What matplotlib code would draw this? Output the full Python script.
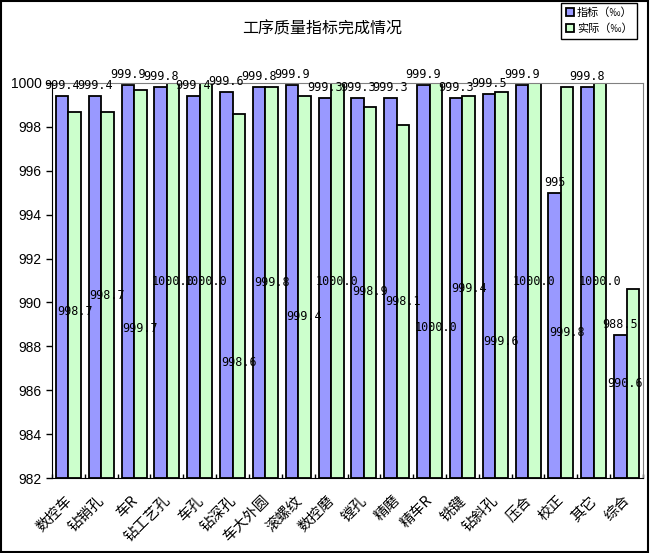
import matplotlib
matplotlib.use("Agg")
import matplotlib.pyplot as plt
import numpy as np
from matplotlib.patches import Rectangle

plt.rcParams["font.family"] = ["Noto Sans CJK SC", "DejaVu Sans"]

# 数据
categories = ["数控车", "钻销孔", "车R", "钻工艺孔", "车孔", "钻深孔", "车大外圆", "滚螺纹", "数控磨",
              "镗孔", "精磨", "精车R", "铣键", "钻斜孔", "压合", "校正", "其它", "综合"]
target = [999.4, 999.4, 999.9, 999.8, 999.4, 999.6, 999.8, 999.9, 999.3,
          999.3, 999.3, 999.9, 999.3, 999.5, 999.9, 995.0, 999.8, 988.5]
actual = [998.7, 998.7, 999.7, 1000.0, 1000.0, 998.6, 999.8, 999.4, 1000.0,
          998.9, 998.1, 1000.0, 999.4, 999.6, 1000.0, 999.8, 1000.0, 990.6]
target_text = ["999.4", "999.4", "999.9", "999.8", "999.4", "999.6", "999.8", "999.9", "999.3",
               "999.3", "999.3", "999.9", "999.3", "999.5", "999.9", "995", "999.8", "988.5"]
# 原图中"实际"数据标签的位置(错位)
actual_label_y = [989.6, 990.3, 988.8, 990.95, 990.95, 987.25, 990.9, 989.35, 990.95,
                  990.5, 990.05, 988.85, 990.65, 988.2, 990.95, 988.65, 990.95, 986.3]
yticks = np.arange(982, 1001, 2)

fig = plt.figure(figsize=(6.5, 5.53), dpi=100)
ax = fig.add_axes([52 / 650, 75 / 553, 591 / 650, 395 / 553])

x = np.arange(len(categories))
w = 0.38
bars1 = ax.bar(x - w / 2, np.array(target) - 982, w, bottom=982, color="#9999FF",
               edgecolor="black", linewidth=1.3, label="指标（‰）")
bars2 = ax.bar(x + w / 2, np.array(actual) - 982, w, bottom=982, color="#CCFFCC",
               edgecolor="black", linewidth=1.3, label="实际（‰）")

ax.set_xlim(-0.5, len(categories) - 0.5)
ax.set_ylim(982, 1000)
ax.set_yticks(yticks)
ax.set_yticklabels([str(v) for v in yticks], fontsize=10, family="Liberation Sans")
ax.tick_params(axis="y", direction="out", length=4, width=1)

# 分类刻度 (边界处, 向内)
ax.set_xticks(np.arange(len(categories) + 1) - 0.5)
ax.set_xticklabels([])
ax.tick_params(axis="x", direction="in", length=3, width=1)
for i, c in enumerate(categories):
    ax.annotate(c, xy=(i - 0.12, 982), xycoords="data", xytext=(0, -11), textcoords="offset points",
                rotation=45, ha="right", va="top", fontsize=10.5, rotation_mode="anchor")

for s in ["top", "right"]:
    ax.spines[s].set_color("#808080")
for s in ["left", "bottom"]:
    ax.spines[s].set_color("black")

# 数据标签
for i, (t, txt) in enumerate(zip(target, target_text)):
    ax.annotate(txt, xy=(i - w / 2, t), xytext=(0, 3), textcoords="offset points",
                ha="center", va="bottom", fontsize=8.5, family="DejaVu Sans Mono")
n = len(categories)
for i, (a, ly) in enumerate(zip(actual, actual_label_y)):
    if i == n - 1:
        # 靠右边界的标签收在绘图区内
        ax.text(n - 0.5, ly, f"{a:.1f}", ha="right", va="center", fontsize=8.5,
                family="DejaVu Sans Mono")
    else:
        ax.text(i + w / 2, ly, f"{a:.1f}", ha="center", va="center", fontsize=8.5,
                family="DejaVu Sans Mono")

fig.text(322 / 650, 1 - 29 / 553, "工序质量指标完成情况", ha="center", va="center", fontsize=11.5)

leg = fig.legend(handles=[bars1, bars2], loc="upper right", bbox_to_anchor=(637 / 650, 1 - 3 / 553),
                 fontsize=8, frameon=True, fancybox=False, edgecolor="black", framealpha=1,
                 handlelength=0.7, handleheight=0.7, handletextpad=0.3, borderpad=0.4,
                 labelspacing=0.5, borderaxespad=0)
leg.get_frame().set_linewidth(1)

fig.patches.append(Rectangle((0.001, 0.002), 0.996, 0.996, transform=fig.transFigure,
                             fill=False, edgecolor="black", linewidth=1.5))

fig.savefig("out.png", dpi=100, facecolor="white")
